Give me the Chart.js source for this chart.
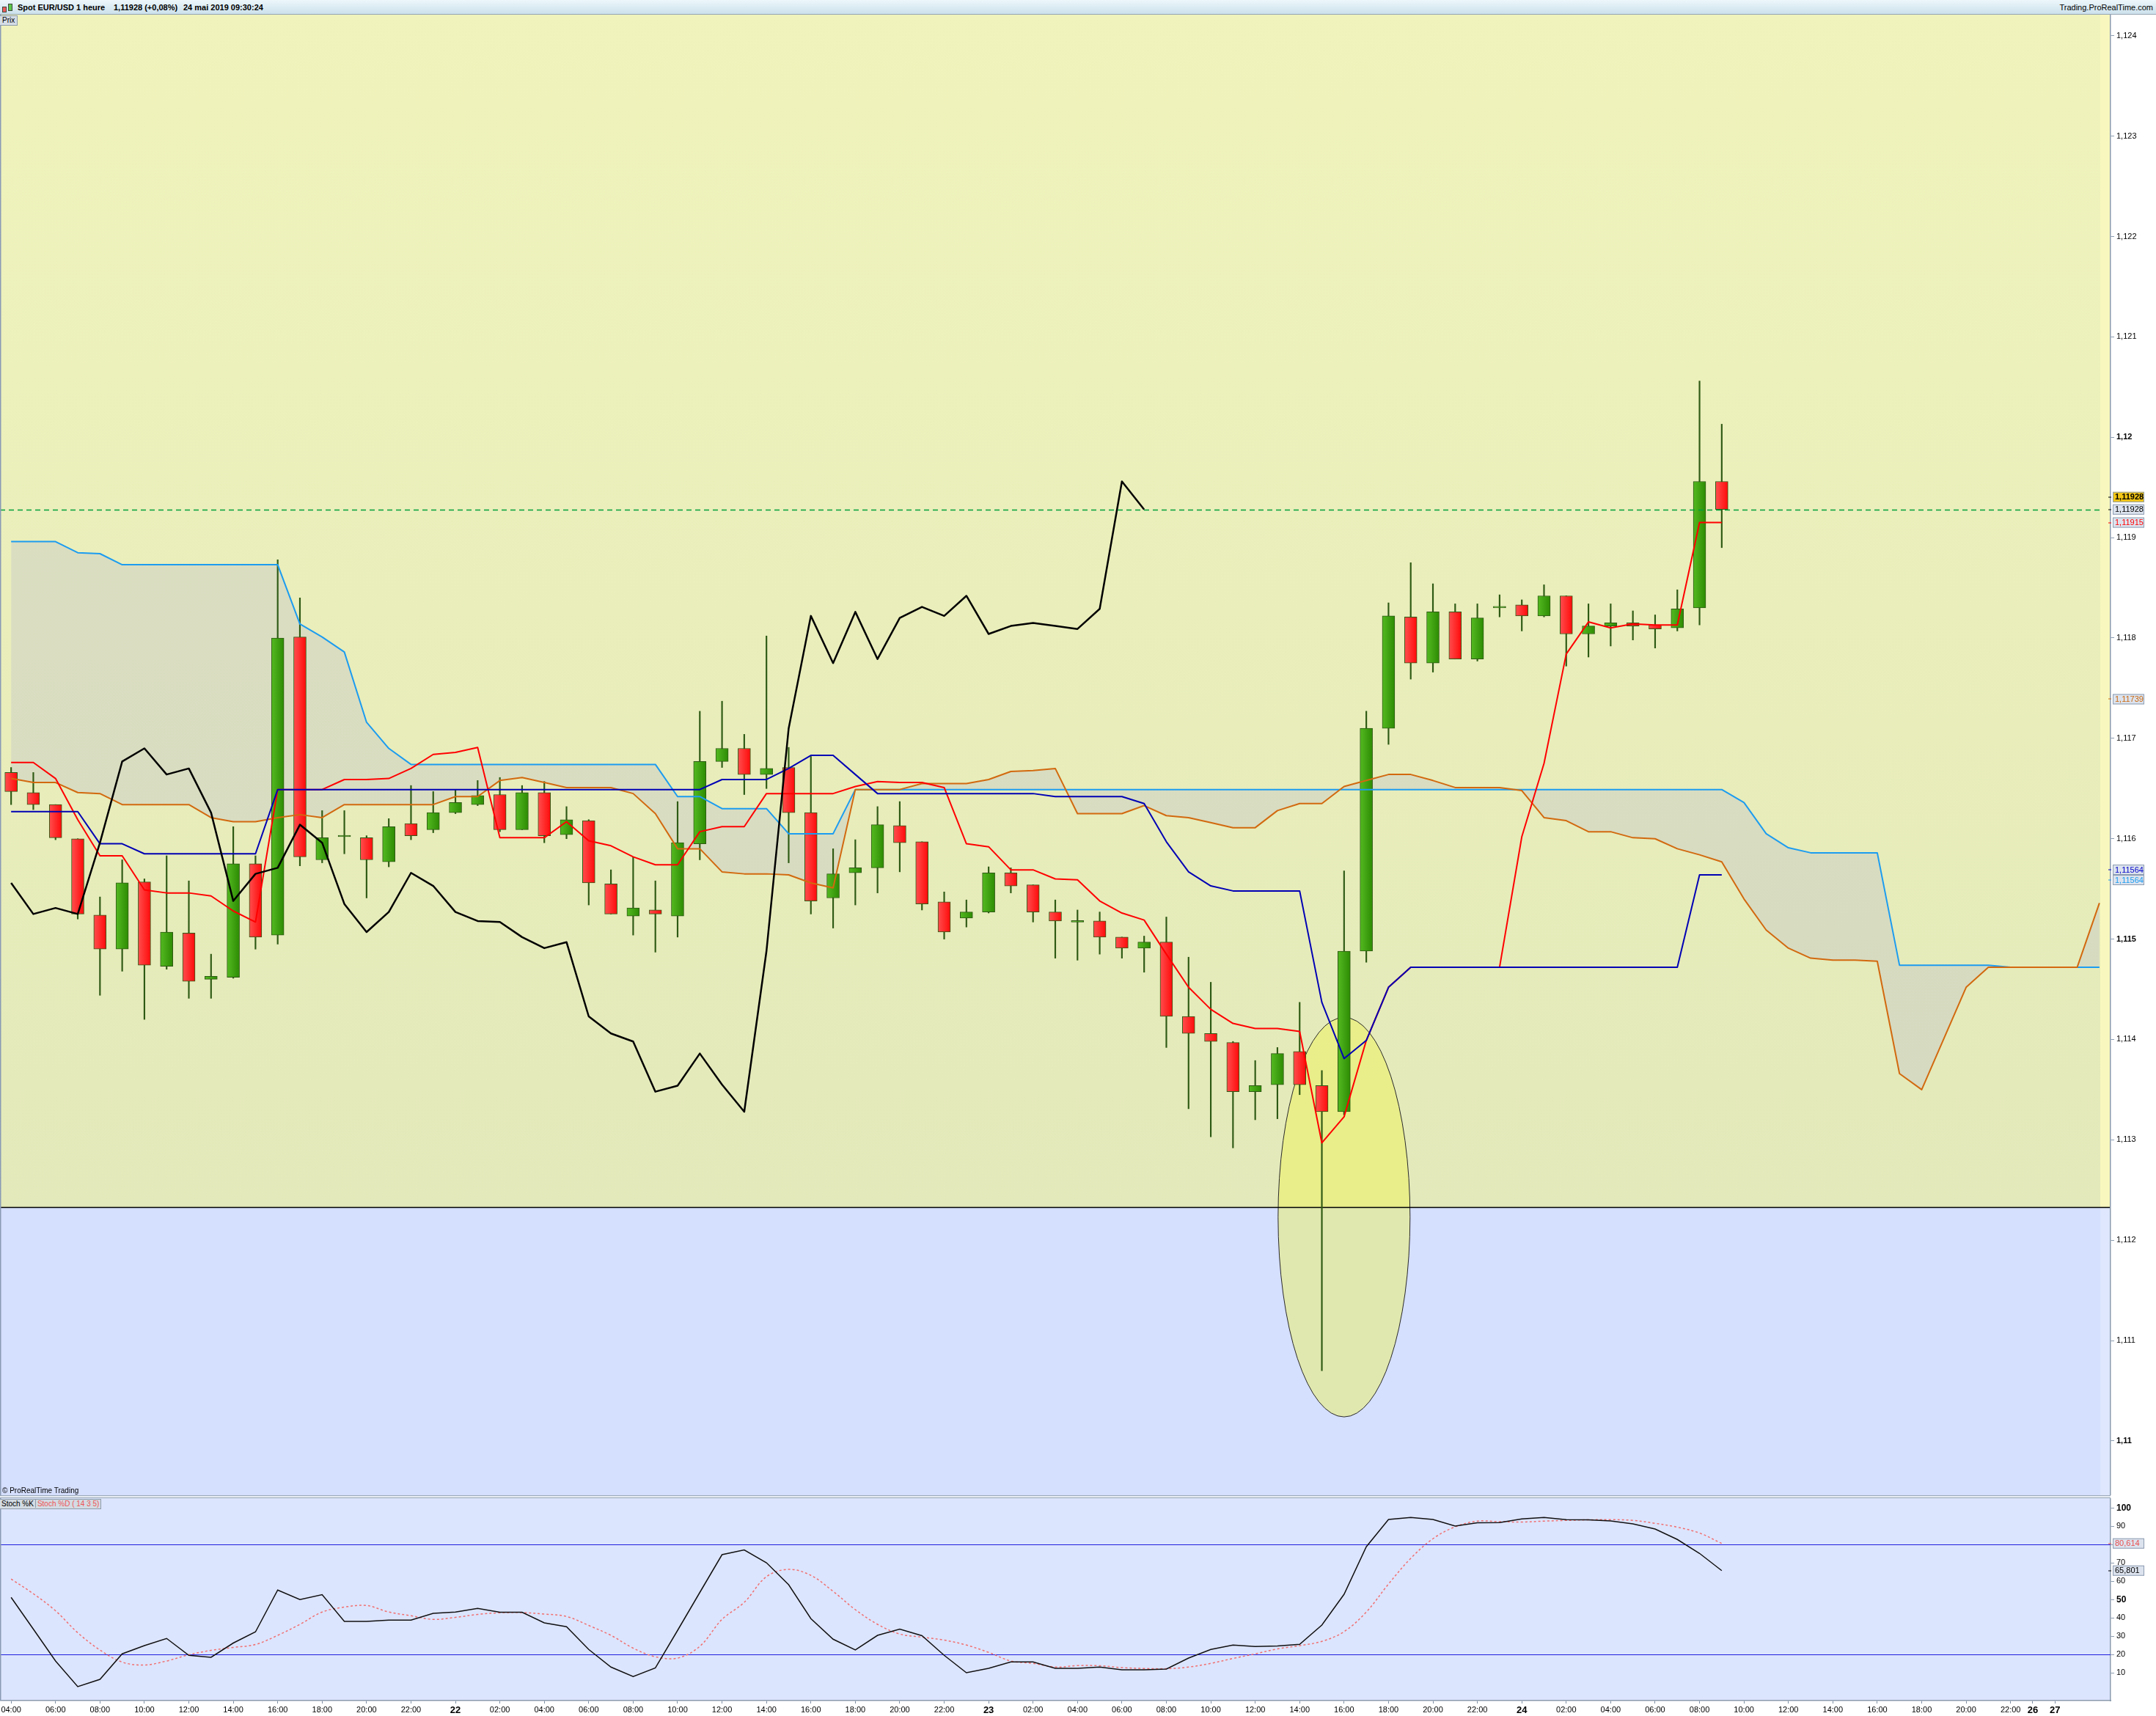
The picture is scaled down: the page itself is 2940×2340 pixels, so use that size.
<!DOCTYPE html>
<html lang="fr">
<head>
<meta charset="utf-8">
<title>Spot EUR/USD - 1 heure</title>
<script src="https://cdn.jsdelivr.net/npm/chart.js@4.4.1/dist/chart.umd.min.js"></script>
<style>
  html, body { margin: 0; padding: 0; background: #fff; }
  body { width: 2940px; height: 2340px; position: relative; overflow: hidden;
         font-family: "Liberation Sans", Arial, sans-serif; }
  #topo { position: absolute; left: 0; top: 0; width: 2940px; height: 20px; box-sizing: border-box;
          background: linear-gradient(#EDF7FB, #CCE1EC); border-bottom: 1px solid #95A5B3; }
  #topo span { position: absolute; top: 4px; font-size: 11px; line-height: 12px; color: #000; white-space: pre; }
  .ic { position: absolute; box-sizing: border-box; border: 1px solid #3d4a3d; }
  canvas { position: absolute; left: 0; }
  #prix { position: absolute; left: 0; top: 21px; height: 12px; padding: 0 3px; font-size: 10px; line-height: 12px;
          background: #D5DDE5; border: 1px solid #8E9CAB; border-left: none; color: #000; }
  #copy { position: absolute; left: 3px; top: 2027px; font-size: 10px; line-height: 11px; color: #000; }
  #sep { position: absolute; left: 0; top: 2039px; width: 2878px; height: 4px; box-sizing: border-box;
         background: #E8EDF4; border-top: 1px solid #9AA8B8; border-bottom: 1px solid #9AA8B8; }
  #leg { position: absolute; left: 0; top: 2044px; height: 12px; font-size: 10px; line-height: 12px;
         background: #D3DBE3; border: 1px solid #8E9CAB; border-left: none; white-space: pre; }
  #leg span { padding: 0 2px; }
</style>
</head>
<body>

<div id="topo">
  <div class="ic" style="left:3px;top:9px;width:6px;height:8px;background:#EE5A5A"></div>
  <div class="ic" style="left:11px;top:5px;width:6px;height:10px;background:#5CC84A"></div>
  <span style="left:24px;font-weight:bold">Spot EUR/USD</span>
  <span style="left:104px;font-weight:bold">1 heure</span>
  <span style="left:155px;font-weight:bold">1,11928 (+0,08%)</span>
  <span style="left:250px;font-weight:bold">24 mai 2019 09:30:24</span>
  <span style="right:4px">Trading.ProRealTime.com</span>
</div>

<canvas id="price" width="2940" height="2019" style="top:20px"></canvas>
<div id="prix">Prix</div>
<div id="copy">© ProRealTime Trading</div>
<div id="sep"></div>
<canvas id="stoch" width="2940" height="297" style="top:2043px"></canvas>
<div id="leg"><span style="color:#000">Stoch %K</span><span style="color:#EE5555;border-left:1px solid #8E9CAB">Stoch %D ( 14 3 5)</span></div>

<script>
// Axe des temps : une bougie par heure, du 21 mai 04:00 jusqu'au 27 mai
const timeLabels = [
  '04:00','','06:00','','08:00','','10:00','','12:00','','14:00','','16:00','','18:00','','20:00','','22:00','',
  '22','','02:00','','04:00','','06:00','','08:00','','10:00','','12:00','','14:00','','16:00','','18:00','',
  '20:00','','22:00','','23','','02:00','','04:00','','06:00','','08:00','','10:00','','12:00','','14:00','',
  '16:00','','18:00','','20:00','','22:00','','24','','02:00','','04:00','','06:00','','08:00','','10:00','',
  '12:00','','14:00','','16:00','','18:00','','20:00','','22:00','26','27','',''
];

// Bougies EUR/USD
const opens = [
  1.11666,1.11646,1.11634,1.11600,1.11524,1.11490,1.11557,1.11473,1.11506,1.11460,
  1.11462,1.11575,1.11504,1.11801,1.11579,1.11602,1.11601,1.11577,1.11615,1.11609,
  1.11626,1.11634,1.11644,1.11609,1.11646,1.11604,1.11618,1.11555,1.11523,1.11529,
  1.11523,1.11595,1.11677,1.11690,1.11664,1.11671,1.11626,1.11541,1.11566,1.11571,
  1.11613,1.11597,1.11537,1.11521,1.11527,1.11566,1.11554,1.11527,1.11517,1.11518,
  1.11502,1.11491,1.11497,1.11423,1.11406,1.11397,1.11348,1.11355,1.11388,1.11354,
  1.11328,1.11488,1.11710,1.11821,1.11775,1.11826,1.11779,1.11830,1.11833,1.11822,
  1.11842,1.11804,1.11812,1.11815,1.11813,1.11810,1.11830,1.11956
];
const highs = [
  1.11671,1.11666,1.11634,1.11600,1.11542,1.11579,1.11560,1.11583,1.11558,1.11485,
  1.11612,1.11583,1.11878,1.11840,1.11628,1.11628,1.11603,1.11620,1.11653,1.11647,
  1.11649,1.11658,1.11661,1.11653,1.11657,1.11632,1.11619,1.11569,1.11582,1.11558,
  1.11637,1.11727,1.11737,1.11704,1.11802,1.11691,1.11682,1.11590,1.11599,1.11632,
  1.11637,1.11597,1.11547,1.11539,1.11572,1.11571,1.11554,1.11539,1.11529,1.11527,
  1.11502,1.11503,1.11522,1.11482,1.11457,1.11398,1.11379,1.11392,1.11437,1.11369,
  1.11568,1.11727,1.11835,1.11875,1.11854,1.11834,1.11834,1.11843,1.11838,1.11853,
  1.11842,1.11834,1.11834,1.11827,1.11823,1.11848,1.12056,1.12013
];
const lows = [
  1.11634,1.11629,1.11599,1.11520,1.11444,1.11468,1.11420,1.11470,1.11441,1.11441,
  1.11461,1.11490,1.11495,1.11573,1.11576,1.11585,1.11541,1.11572,1.11599,1.11606,
  1.11625,1.11633,1.11607,1.11609,1.11596,1.11600,1.11534,1.11525,1.11504,1.11487,
  1.11502,1.11579,1.11671,1.11644,1.11650,1.11576,1.11525,1.11511,1.11534,1.11546,
  1.11567,1.11529,1.11500,1.11512,1.11526,1.11546,1.11517,1.11481,1.11479,1.11485,
  1.11481,1.11467,1.11392,1.11331,1.11303,1.11292,1.11320,1.11321,1.11345,1.11070,
  1.11325,1.11477,1.11694,1.11759,1.11766,1.11779,1.11777,1.11821,1.11807,1.11821,
  1.11772,1.11781,1.11792,1.11798,1.11790,1.11807,1.11813,1.11890
];
const closes = [
  1.11647,1.11634,1.11601,1.11525,1.11490,1.11556,1.11474,1.11507,1.11458,1.11463,
  1.11575,1.11502,1.11800,1.11582,1.11601,1.11602,1.11579,1.11612,1.11603,1.11626,
  1.11636,1.11643,1.11609,1.11646,1.11603,1.11619,1.11556,1.11525,1.11531,1.11525,
  1.11596,1.11677,1.11690,1.11664,1.11670,1.11626,1.11538,1.11565,1.11571,1.11614,
  1.11596,1.11535,1.11507,1.11527,1.11566,1.11553,1.11527,1.11518,1.11517,1.11502,
  1.11491,1.11497,1.11423,1.11406,1.11398,1.11348,1.11354,1.11386,1.11355,1.11328,
  1.11488,1.11710,1.11822,1.11775,1.11826,1.11779,1.11820,1.11831,1.11822,1.11842,
  1.11804,1.11812,1.11815,1.11812,1.11809,1.11829,1.11956,1.11928
];

// Ichimoku
const tenkan = [
  1.11676,1.11676,1.11660,1.11619,1.11583,1.11583,1.11549,1.11546,1.11546,1.11543,
  1.11528,1.11517,1.11649,1.11649,1.11649,1.11659,1.11659,1.11660,1.11670,1.11684,
  1.11686,1.11691,1.11601,1.11601,1.11601,1.11617,1.11598,1.11593,1.11582,1.11574,
  1.11574,1.11607,1.11612,1.11612,1.11645,1.11645,1.11645,1.11645,1.11652,1.11657,
  1.11656,1.11656,1.11651,1.11595,1.11592,1.11569,1.11569,1.11560,1.11559,1.11538,
  1.11526,1.11519,1.11485,1.11452,1.11430,1.11416,1.11411,1.11411,1.11408,1.11297,
  1.11323,1.11399,1.11452,1.11472,1.11472,1.11472,1.11472,1.11472,1.11602,1.11675,
  1.11784,1.11816,1.11810,1.11814,1.11813,1.11813,1.11915,1.11915
];
const kijun = [
  1.11627,1.11627,1.11627,1.11627,1.11595,1.11595,1.11585,1.11585,1.11585,1.11585,
  1.11585,1.11585,1.11649,1.11649,1.11649,1.11649,1.11649,1.11649,1.11649,1.11649,
  1.11649,1.11649,1.11649,1.11649,1.11649,1.11649,1.11649,1.11649,1.11649,1.11649,
  1.11649,1.11649,1.11659,1.11659,1.11659,1.11670,1.11683,1.11683,1.11664,1.11645,
  1.11645,1.11645,1.11645,1.11645,1.11645,1.11645,1.11645,1.11642,1.11642,1.11642,
  1.11642,1.11635,1.11597,1.11567,1.11553,1.11548,1.11548,1.11548,1.11548,1.11437,
  1.11381,1.11399,1.11452,1.11472,1.11472,1.11472,1.11472,1.11472,1.11472,1.11472,
  1.11472,1.11472,1.11472,1.11472,1.11472,1.11472,1.11564,1.11564
];
const chikou = [
  1.11556,1.11525,1.11531,1.11525,1.11596,1.11677,1.11690,1.11664,1.11670,1.11626,
  1.11538,1.11565,1.11571,1.11614,1.11596,1.11535,1.11507,1.11527,1.11566,1.11553,
  1.11527,1.11518,1.11517,1.11502,1.11491,1.11497,1.11423,1.11406,1.11398,1.11348,
  1.11354,1.11386,1.11355,1.11328,1.11488,1.11710,1.11822,1.11775,1.11826,1.11779,
  1.11820,1.11831,1.11822,1.11842,1.11804,1.11812,1.11815,1.11812,1.11809,1.11829,
  1.11956,1.11928
];
const senkouA = [
  1.11660,1.11656,1.11656,1.11646,1.11645,1.11634,1.11634,1.11634,1.11634,1.11621,
  1.11617,1.11617,1.11621,1.11624,1.11621,1.11634,1.11634,1.11634,1.11634,1.11634,
  1.11642,1.11642,1.11658,1.11661,1.11656,1.11651,1.11651,1.11651,1.11645,1.11625,
  1.11590,1.11590,1.11567,1.11565,1.11565,1.11564,1.11556,1.11551,1.11649,1.11649,
  1.11649,1.11655,1.11655,1.11655,1.11659,1.11667,1.11668,1.11670,1.11625,1.11625,
  1.11625,1.11633,1.11623,1.11621,1.11616,1.11611,1.11611,1.11628,1.11635,1.11635,
  1.11652,1.11658,1.11664,1.11664,1.11658,1.11651,1.11651,1.11651,1.11648,1.11621,
  1.11618,1.11607,1.11607,1.11601,1.11600,1.11590,1.11584,1.11577,1.11540,1.11509,
  1.11491,1.11481,1.11479,1.11479,1.11478,1.11366,1.11350,1.11401,1.11452,1.11472,
  1.11472,1.11472,1.11472,1.11472,1.11536
];
const senkouB = [
  1.11896,1.11896,1.11896,1.11885,1.11884,1.11873,1.11873,1.11873,1.11873,1.11873,
  1.11873,1.11873,1.11873,1.11814,1.11801,1.11786,1.11716,1.11690,1.11674,1.11674,
  1.11674,1.11674,1.11674,1.11674,1.11674,1.11674,1.11674,1.11674,1.11674,1.11674,
  1.11642,1.11642,1.11630,1.11630,1.11630,1.11605,1.11605,1.11605,1.11649,1.11649,
  1.11649,1.11649,1.11649,1.11649,1.11649,1.11649,1.11649,1.11649,1.11649,1.11649,
  1.11649,1.11649,1.11649,1.11649,1.11649,1.11649,1.11649,1.11649,1.11649,1.11649,
  1.11649,1.11649,1.11649,1.11649,1.11649,1.11649,1.11649,1.11649,1.11649,1.11649,
  1.11649,1.11649,1.11649,1.11649,1.11649,1.11649,1.11649,1.11649,1.11636,1.11605,
  1.11591,1.11586,1.11586,1.11586,1.11586,1.11474,1.11474,1.11474,1.11474,1.11474,
  1.11472,1.11472,1.11472,1.11472,1.11472
];

// Stochastique (14 3 5)
const stochK = [
  51.2,33.9,16.5,2.5,6.5,20.4,24.9,28.8,19.6,18.5,
  26.3,32.4,55.2,50.0,52.7,38.1,38.1,38.8,38.8,42.5,
  43.2,45.2,43.1,43.1,37.3,35.2,22.8,13.2,8.0,12.7,
  33.2,53.9,74.5,77.1,70.1,58.1,39.6,28.4,22.5,30.5,
  33.9,30.3,19.6,10.1,12.5,16.0,16.0,12.5,12.5,13.2,
  11.7,11.7,12.1,18.1,22.8,25.2,24.4,24.7,25.6,36.1,
  52.9,78.8,93.7,94.8,93.7,90.1,91.9,92.0,94.0,94.8,
  93.6,93.5,92.9,91.3,88.5,82.8,75.2,65.8
];
const stochD = [
  61.2,53.2,43.9,31.9,22.5,15.9,14.3,16.5,19.9,22.3,
  23.9,25.5,30.5,36.5,43.2,45.9,46.8,43.2,41.2,39.2,
  40.3,41.9,42.8,42.9,42.1,40.8,35.9,30.5,23.5,18.8,
  18.1,24.5,39.2,48.5,62.5,66.5,63.2,54.5,44.5,36.5,
  31.2,29.5,27.9,25.2,21.2,16.5,15.2,13.2,14.0,13.9,
  12.9,12.4,12.3,13.2,15.2,17.9,20.4,23.1,24.9,27.2,
  32.5,43.2,58.5,72.5,83.2,89.7,92.8,92.5,92.3,92.8,
  93.2,93.5,93.6,93.2,91.6,89.5,86.3,80.6
];

// Graduations des axes
const priceTicks = [1.110,1.111,1.112,1.113,1.114,1.115,1.116,1.117,1.118,1.119,1.120,1.121,1.122,1.123,1.124];
const boldPriceTicks = [1.110, 1.115, 1.120];
const stochTicks = [10,20,30,40,50,60,70,80,90,100];
const boldStochTicks = [50, 100];
const stochLevels = [80, 20];

// Niveaux et étiquettes de droite
const lastPrice = 1.11928;
const zoneLevel = 1.11233;
const ellipseZone = { center: 60, price: 1.11223, halfWidth: 2.97, halfHeight: 0.00199 };
const priceTags = [
  { v: 1.11928, text: '1,11928', color: '#000000', bg: '#F3C614', bold: true, shift: -17 },
  { v: 1.11928, text: '1,11928', color: '#000000', bg: '#DCE3EE', shift: 0 },
  { v: 1.11915, text: '1,11915', color: '#FF0000', bg: '#DCE3EE', shift: 0 },
  { v: 1.11739, text: '1,11739', color: '#CC6A10', bg: '#DCE3EE', shift: 0 },
  { v: 1.11564, text: '1,11564', color: '#0000C8', bg: '#DCE3EE', shift: -7 },
  { v: 1.11564, text: '1,11564', color: '#1C9CF0', bg: '#DCE3EE', shift: 7 }
];
const stochTags = [
  { v: 80.614, text: '80,614', color: '#E85050', bg: '#DCE3EE', shift: 0 },
  { v: 65.801, text: '65,801', color: '#000000', bg: '#DCE3EE', shift: 0 }
];

Chart.defaults.font.family = '"Liberation Sans", Arial, sans-serif';
Chart.defaults.font.size = 11;
Chart.defaults.color = '#000';

const AXIS_W = 62;
const BAND_W = 14;

function formatPrice(v) {
  return v.toFixed(3).replace(/0+$/, '').replace('.', ',');
}

// Petites étiquettes encadrées sur l'axe de droite
function drawTag(ctx, x, y, t) {
  ctx.fillStyle = t.color;
  ctx.fillRect(x - 4, Math.round(y) - 0.5, 4, 1);
  ctx.fillStyle = t.bg;
  ctx.fillRect(x + 2, y - 7, 43, 14);
  ctx.strokeStyle = '#8E9DB2';
  ctx.lineWidth = 1;
  ctx.strokeRect(x + 2.5, y - 6.5, 42, 13);
  ctx.fillStyle = t.color;
  ctx.font = (t.bold ? 'bold ' : '') + '11px "Liberation Sans", Arial, sans-serif';
  ctx.textBaseline = 'middle';
  ctx.textAlign = 'left';
  ctx.fillText(t.text, x + 5, y + 0.5);
}

const priceDecor = {
  id: 'priceDecor',
  beforeDraw(chart) {
    const { ctx, chartArea: a, scales: { x, y } } = chart;
    const yl = y.getPixelForValue(zoneLevel);
    ctx.save();
    // zone jaune au-dessus, zone bleue en dessous
    const g = ctx.createLinearGradient(0, a.top, 0, yl);
    g.addColorStop(0, '#F0F3BB');
    g.addColorStop(1, '#E3E9BA');
    ctx.fillStyle = g;
    ctx.fillRect(a.left, a.top, a.width, yl - a.top);
    ctx.fillStyle = '#D5DFFE';
    ctx.fillRect(a.left, yl, a.width, a.bottom - yl);
    // bande claire du bord droit
    ctx.fillStyle = '#F8F8BE';
    ctx.fillRect(a.right - BAND_W, a.top, BAND_W, yl - a.top);
    ctx.fillStyle = '#DFE7FE';
    ctx.fillRect(a.right - BAND_W, yl, BAND_W, a.bottom - yl);
    // ellipse tracée par l'utilisateur
    const cx = x.getPixelForValue(ellipseZone.center);
    const cy = y.getPixelForValue(ellipseZone.price);
    const rx = (x.getPixelForValue(1) - x.getPixelForValue(0)) * ellipseZone.halfWidth;
    const ry = Math.abs(y.getPixelForValue(ellipseZone.price + ellipseZone.halfHeight) - cy);
    ctx.beginPath();
    ctx.ellipse(cx, cy, rx, ry, 0, 0, Math.PI * 2);
    ctx.fillStyle = 'rgba(240,245,80,0.45)';
    ctx.fill();
    ctx.strokeStyle = '#2a2a2a';
    ctx.lineWidth = 1;
    ctx.stroke();
    // ligne horizontale noire
    ctx.beginPath();
    ctx.moveTo(a.left, Math.round(yl) + 0.5);
    ctx.lineTo(a.right, Math.round(yl) + 0.5);
    ctx.strokeStyle = '#000';
    ctx.lineWidth = 1.5;
    ctx.stroke();
    ctx.restore();
  },
  afterDatasetsDraw(chart) {
    const { ctx, chartArea: a, scales: { y } } = chart;
    const yp = Math.round(y.getPixelForValue(lastPrice)) + 0.5;
    ctx.save();
    ctx.setLineDash([7, 5]);
    ctx.strokeStyle = '#00A03A';
    ctx.lineWidth = 1.5;
    ctx.beginPath();
    ctx.moveTo(a.left, yp);
    ctx.lineTo(a.right - BAND_W, yp);
    ctx.stroke();
    ctx.restore();
  },
  afterDraw(chart) {
    const { ctx, chartArea: a, scales: { y } } = chart;
    ctx.save();
    priceTags.forEach(t => drawTag(ctx, a.right + 1, y.getPixelForValue(t.v) + t.shift, t));
    // bord gauche
    ctx.fillStyle = '#8A9BB5';
    ctx.fillRect(0, 0, 1.5, a.bottom);
    ctx.restore();
  }
};

const stochDecor = {
  id: 'stochDecor',
  beforeDraw(chart) {
    const { ctx, chartArea: a } = chart;
    ctx.save();
    ctx.fillStyle = '#DCE5FE';
    ctx.fillRect(a.left, a.top, a.width, a.height);
    ctx.restore();
  },
  beforeDatasetsDraw(chart) {
    const { ctx, chartArea: a, scales: { y } } = chart;
    ctx.save();
    ctx.strokeStyle = '#1E1EDC';
    ctx.lineWidth = 1.2;
    stochLevels.forEach(l => {
      const yp = Math.round(y.getPixelForValue(l)) + 0.5;
      ctx.beginPath();
      ctx.moveTo(a.left, yp);
      ctx.lineTo(a.right, yp);
      ctx.stroke();
    });
    ctx.restore();
  },
  afterDraw(chart) {
    const { ctx, chartArea: a, scales: { y } } = chart;
    ctx.save();
    stochTags.forEach(t => drawTag(ctx, a.right + 1, y.getPixelForValue(t.v) + t.shift, t));
    ctx.fillStyle = '#8A9BB5';
    ctx.fillRect(0, 0, 1.5, a.bottom);
    ctx.restore();
  }
};

// Corps et mèches des bougies en barres flottantes
const bodies = opens.map((o, i) => [o, closes[i]]);
const wicks = lows.map((l, i) => [l, highs[i]]);

function bodyColor(c) {
  const i = c.dataIndex;
  if (i === undefined) return '#3A9E12';
  const up = closes[i] >= opens[i];
  const xs = c.chart.scales && c.chart.scales.x;
  const px = xs ? xs.getPixelForValue(i) : NaN;
  if (!isFinite(px)) return up ? '#3A9E12' : '#FF2020';
  const g = c.chart.ctx.createLinearGradient(px - 9, 0, px + 9, 0);
  if (up) { g.addColorStop(0, '#55BB22'); g.addColorStop(1, '#2C8A02'); }
  else { g.addColorStop(0, '#FF5050'); g.addColorStop(1, '#FF0808'); }
  return g;
}

function tickValue(c) {
  return c && c.tick ? c.tick.value : null;
}

const lineBase = { type: 'line', pointRadius: 0, tension: 0, borderJoinStyle: 'round', fill: false };

new Chart(document.getElementById('price'), {
  type: 'bar',
  data: {
    labels: timeLabels,
    datasets: [
      { ...lineBase, label: 'Chikou', data: chikou, borderColor: '#000000', borderWidth: 2.5, order: 0 },
      { ...lineBase, label: 'Kijun', data: kijun, borderColor: '#0000B4', borderWidth: 2, order: 1 },
      { ...lineBase, label: 'Tenkan', data: tenkan, borderColor: '#FF0000', borderWidth: 2, order: 2 },
      { ...lineBase, label: 'Senkou A', data: senkouA, borderColor: '#D2690F', borderWidth: 2, order: 3,
        fill: { target: '+1' }, backgroundColor: 'rgba(165,165,215,0.22)' },
      { ...lineBase, label: 'Senkou B', data: senkouB, borderColor: '#1C9CF0', borderWidth: 2, order: 3 },
      { label: 'Bougies', data: bodies, order: 4, grouped: false, barThickness: 17, minBarLength: 2,
        backgroundColor: bodyColor, borderColor: '#2E5A14', borderWidth: 1, borderSkipped: false },
      { label: 'Mèches', data: wicks, order: 5, grouped: false, barThickness: 1.5,
        backgroundColor: '#2E5A14', borderWidth: 0 }
    ]
  },
  options: {
    responsive: false,
    devicePixelRatio: 1,
    animation: false,
    events: [],
    layout: { padding: 0 },
    plugins: {
      legend: { display: false },
      tooltip: { enabled: false },
      filler: { drawTime: 'beforeDatasetsDraw' }
    },
    scales: {
      x: { type: 'category', offset: true, display: false, grid: { display: false } },
      y: {
        position: 'right',
        min: 1.109459,
        max: 1.124210,
        afterBuildTicks: s => { s.ticks = priceTicks.map(v => ({ value: v })); },
        afterFit: s => { s.width = AXIS_W; s.paddingTop = 0; s.paddingBottom = 0; },
        ticks: {
          padding: 3,
          color: '#000',
          callback: v => formatPrice(v),
          font: c => {
            const v = tickValue(c);
            const b = v !== null && boldPriceTicks.some(t => Math.abs(t - v) < 1e-6);
            return { size: 11, weight: b ? 'bold' : 'normal' };
          }
        },
        grid: { drawOnChartArea: false, tickLength: 5, color: '#8A9AAE' },
        border: { color: '#8A9AAE', width: 1.5 }
      }
    }
  },
  plugins: [priceDecor]
});

new Chart(document.getElementById('stoch'), {
  type: 'line',
  data: {
    labels: timeLabels,
    datasets: [
      { label: 'Stoch %K', data: stochK, borderColor: '#111111', borderWidth: 1.5, pointRadius: 0, tension: 0 },
      { label: 'Stoch %D', data: stochD, borderColor: '#F07070', borderWidth: 1.5, borderDash: [3, 3],
        pointRadius: 0, tension: 0.35 }
    ]
  },
  options: {
    responsive: false,
    devicePixelRatio: 1,
    animation: false,
    events: [],
    layout: { padding: 0 },
    plugins: { legend: { display: false }, tooltip: { enabled: false } },
    scales: {
      x: {
        type: 'category',
        offset: true,
        afterFit: s => { s.height = 21; s.paddingLeft = 0; s.paddingRight = 0; },
        ticks: {
          autoSkip: false,
          maxRotation: 0,
          minRotation: 0,
          padding: 2,
          color: '#000',
          callback: (v, i) => timeLabels[i],
          font: c => {
            const lab = (c && c.index !== undefined && timeLabels[c.index]) || '';
            return lab.length === 2 ? { size: 13, weight: 'bold' } : { size: 11, weight: 'normal' };
          }
        },
        grid: {
          drawOnChartArea: false,
          tickLength: 4,
          color: c => (c && c.index !== undefined && timeLabels[c.index] ? '#7F8FA4' : 'rgba(0,0,0,0)')
        },
        border: { color: '#8A9AAE', width: 1.5 }
      },
      y: {
        position: 'right',
        min: -5.1,
        max: 105.3,
        afterBuildTicks: s => { s.ticks = stochTicks.map(v => ({ value: v })); },
        afterFit: s => { s.width = AXIS_W; s.paddingTop = 0; s.paddingBottom = 0; },
        ticks: {
          padding: 3,
          color: '#000',
          callback: v => String(v),
          font: c => {
            const b = boldStochTicks.includes(tickValue(c));
            return { size: b ? 12 : 11, weight: b ? 'bold' : 'normal' };
          }
        },
        grid: { drawOnChartArea: false, tickLength: 5, color: '#8A9AAE' },
        border: { color: '#8A9AAE', width: 1.5 }
      }
    }
  },
  plugins: [stochDecor]
});
</script>
</body>
</html>
